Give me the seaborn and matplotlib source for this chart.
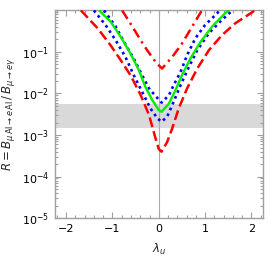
import numpy as np
import pandas as pd
import matplotlib
matplotlib.use("Agg")
import matplotlib.pyplot as plt
import matplotlib.ticker as mticker
import seaborn as sns

# ---- data (lambda_u, log10 R) ----
lam_red_dash = [-1.68, -1.32, -1.04, -0.82, -0.61, -0.39, -0.21, -0.07, 0.00, 0.06,
                0.18, 0.29, 0.43, 0.61, 0.83, 1.08, 1.36, 1.65, 2.01, 2.07]
log_red_dash = [0.00, -0.43, -0.84, -1.20, -1.56, -2.04, -2.52, -3.08, -3.34, -3.40,
                -3.17, -2.84, -2.36, -1.88, -1.40, -0.96, -0.60, -0.31, -0.05, 0.00]

lam_red_dd = [-0.79, -0.57, -0.39, -0.25, -0.07, 0.07, 0.29, 0.50, 0.72, 0.93]
log_red_dd = [0.00, -0.39, -0.72, -0.96, -1.24, -1.40, -1.12, -0.80, -0.39, 0.00]

lam_green = [-1.29, -1.04, -0.82, -0.61, -0.43, -0.29, -0.14, 0.00, 0.06,
             0.22, 0.36, 0.50, 0.68, 0.90, 1.15, 1.43, 1.51]
log_green = [0.00, -0.27, -0.64, -1.04, -1.44, -1.84, -2.16, -2.40, -2.44,
             -2.24, -1.92, -1.56, -1.16, -0.76, -0.39, -0.07, 0.00]

lam_blue_up = [-1.18, -0.93, -0.75, -0.54, -0.36, -0.21, -0.07, 0.06,
               0.22, 0.32, 0.47, 0.61, 0.79, 1.00, 1.26, 1.31]
log_blue_up = [0.00, -0.39, -0.76, -1.16, -1.56, -1.88, -2.06, -2.22,
               -2.04, -1.80, -1.48, -1.08, -0.67, -0.35, -0.07, 0.00]

lam_blue_lo = [-1.40, -1.15, -0.93, -0.72, -0.54, -0.36, -0.18, -0.03, 0.06,
               0.18, 0.32, 0.47, 0.65, 0.83, 1.08, 1.36, 1.59]
log_blue_lo = [0.00, -0.35, -0.72, -1.12, -1.56, -1.96, -2.36, -2.60, -2.68,
               -2.56, -2.20, -1.80, -1.36, -0.96, -0.55, -0.23, 0.00]

band_low, band_high = 1.45e-3, 5.5e-3
x_ticks = [-2, -1, 0, 1, 2]
x_tick_labels = ["\u22122", "\u22121", "0", "1", "2"]
y_ticks = [1e-5, 1e-4, 1e-3, 1e-2, 1e-1]
y_tick_labels = [r"$10^{-5}$", r"$10^{-4}$", r"$10^{-3}$", r"$10^{-2}$", r"$10^{-1}$"]

sns.set_style("ticks")
plt.rcParams["font.family"] = ["DejaVu Sans"]
plt.rcParams["mathtext.fontset"] = "dejavusans"

fig = plt.figure(figsize=(2.74, 2.74), dpi=100)
ax = fig.add_axes([0.199, 0.204, 0.761, 0.758])

frame_col = "#a0a0a0"
ax.axhspan(band_low, band_high, color="#d9d9d9", lw=0, zorder=0)
ax.axvline(0, color="#aaaaaa", lw=0.8, zorder=1)

def curve(lam, logv, color, lw, dashes):
    df = pd.DataFrame({"lam": lam, "R": 10 ** np.array(logv)})
    sns.lineplot(data=df, x="lam", y="R", ax=ax, color=color, lw=lw,
                 sort=False, estimator=None, zorder=3)
    line = ax.get_lines()[-1]
    if dashes is not None:
        line.set_dashes(dashes)
    line.set_solid_capstyle("butt")
    line.set_dash_capstyle("butt")
    line.set_solid_joinstyle("round")

curve(lam_red_dash, log_red_dash, "#ff0000", 1.8, (4.0, 1.7))
curve(lam_red_dd, log_red_dd, "#ff0000", 1.8, (4.0, 1.9, 0.9, 1.9))
curve(lam_blue_up, log_blue_up, "#0000ff", 1.9, (1.0, 1.4))
curve(lam_blue_lo, log_blue_lo, "#0000ff", 1.9, (1.0, 1.4))
curve(lam_green, log_green, "#00ee00", 1.7, None)

ax.set_yscale("log")
ax.set_xlim(-2.25, 2.25)
ax.set_ylim(1e-5, 1.0)

ax.set_xticks(x_ticks)
ax.set_xticklabels(x_tick_labels)
ax.xaxis.set_minor_locator(mticker.MultipleLocator(0.2))
ax.set_yticks(y_ticks)
ax.set_yticklabels(y_tick_labels)
ax.yaxis.set_minor_locator(mticker.LogLocator(base=10, subs=np.arange(2, 10), numticks=20))
ax.yaxis.set_minor_formatter(mticker.NullFormatter())

ax.tick_params(which="both", direction="in", top=True, right=True,
               color=frame_col, width=0.8, labelsize=8, labelcolor="black", pad=4)
ax.tick_params(which="major", length=4)
ax.tick_params(which="minor", length=2)
for s in ax.spines.values():
    s.set_color(frame_col)
    s.set_linewidth(1.0)

ax.set_xlabel(r"$\lambda_u$", fontsize=8.5, labelpad=6)
ax.set_ylabel(r"$R = B_{\mu\,\mathrm{Al}\rightarrow e\,\mathrm{Al}}\,/\,B_{\mu\rightarrow e\gamma}$",
              fontsize=8.5, labelpad=3)

fig.savefig("out.png", dpi=100)
